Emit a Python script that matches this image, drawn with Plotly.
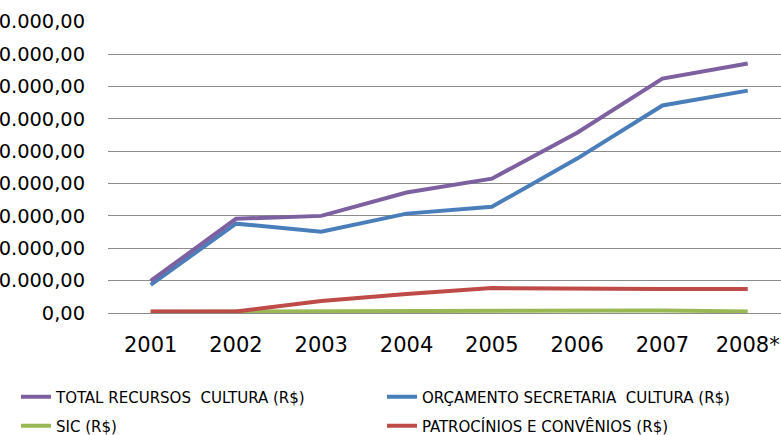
import plotly.graph_objects as go

years = ["2001", "2002", "2003", "2004", "2005", "2006", "2007", "2008*"]

total_recursos = [9.9e6, 29.1e6, 30.0e6, 37.2e6, 41.5e6, 55.7e6, 72.4e6, 77.1e6]
orcamento_secretaria = [8.7e6, 27.6e6, 25.1e6, 30.7e6, 32.8e6, 47.7e6, 64.1e6, 68.7e6]
sic = [0.4e6, 0.45e6, 0.5e6, 0.55e6, 0.7e6, 0.55e6, 0.8e6, 0.5e6]
patrocinios = [0.45e6, 0.45e6, 3.7e6, 5.9e6, 7.7e6, 7.4e6, 7.4e6, 7.4e6]

y_tick_vals = [0, 10e6, 20e6, 30e6, 40e6, 50e6, 60e6, 70e6, 80e6, 90e6]
y_tick_text = ["0,00", "10.000.000,00", "20.000.000,00", "30.000.000,00",
               "40.000.000,00", "50.000.000,00", "60.000.000,00",
               "70.000.000,00", "80.000.000,00", "90.000.000,00"]

# (name, values, colour, legend id, legend x px, legend y px)
series = [
    ("SIC (R$)", sic, "#98B954", "legend3", 16, 426),
    ("PATROCÍNIOS E CONVÊNIOS (R$)", patrocinios, "#BE4B48", "legend4", 382, 426),
    ("ORÇAMENTO SECRETARIA  CULTURA (R$)", orcamento_secretaria, "#4A7EBB", "legend2", 382, 397),
    ("TOTAL RECURSOS  CULTURA (R$)", total_recursos, "#7D60A0", "legend", 16, 397),
]

W, H = 781, 435
fig = go.Figure()
legend_font = dict(family="DejaVu Sans Condensed, Liberation Sans", size=16.7, color="#000000")
legends = {}
for name, vals, color, leg, lx, ly in series:
    fig.add_trace(go.Scatter(
        x=years, y=vals, mode="lines", name=name,
        line=dict(color=color, width=4),
        legend=leg,
    ))
    legends[leg] = dict(
        orientation="h", xref="container", yref="container",
        x=lx / W, y=1 - ly / H, xanchor="left", yanchor="middle",
        font=legend_font, bgcolor="rgba(0,0,0,0)",
    )

fig.update_layout(
    width=W, height=H,
    margin=dict(l=108, r=0, t=21, b=122, autoexpand=False),
    plot_bgcolor="white", paper_bgcolor="white",
    showlegend=True,
    **legends,
)
fig.update_xaxes(
    type="category", range=[-0.5, 7.39],
    showgrid=False, showline=False, zeroline=False,
    ticks="", ticklabelstandoff=17, automargin=False,
    tickfont=dict(family="DejaVu Sans", size=21, color="#000000"),
)
fig.update_yaxes(
    range=[0, 90.2e6],
    tickvals=y_tick_vals, ticktext=y_tick_text,
    showgrid=True, gridcolor="#8C8C8C", gridwidth=1,
    zeroline=True, zerolinecolor="#8C8C8C", zerolinewidth=1,
    showline=False, ticks="", ticklabelstandoff=22,
    tickfont=dict(family="DejaVu Sans", size=19.4, color="#000000"),
    automargin=False,
)

fig.write_html("out.html", config={"displayModeBar": False},
               post_script="document.body.style.margin='0';")
